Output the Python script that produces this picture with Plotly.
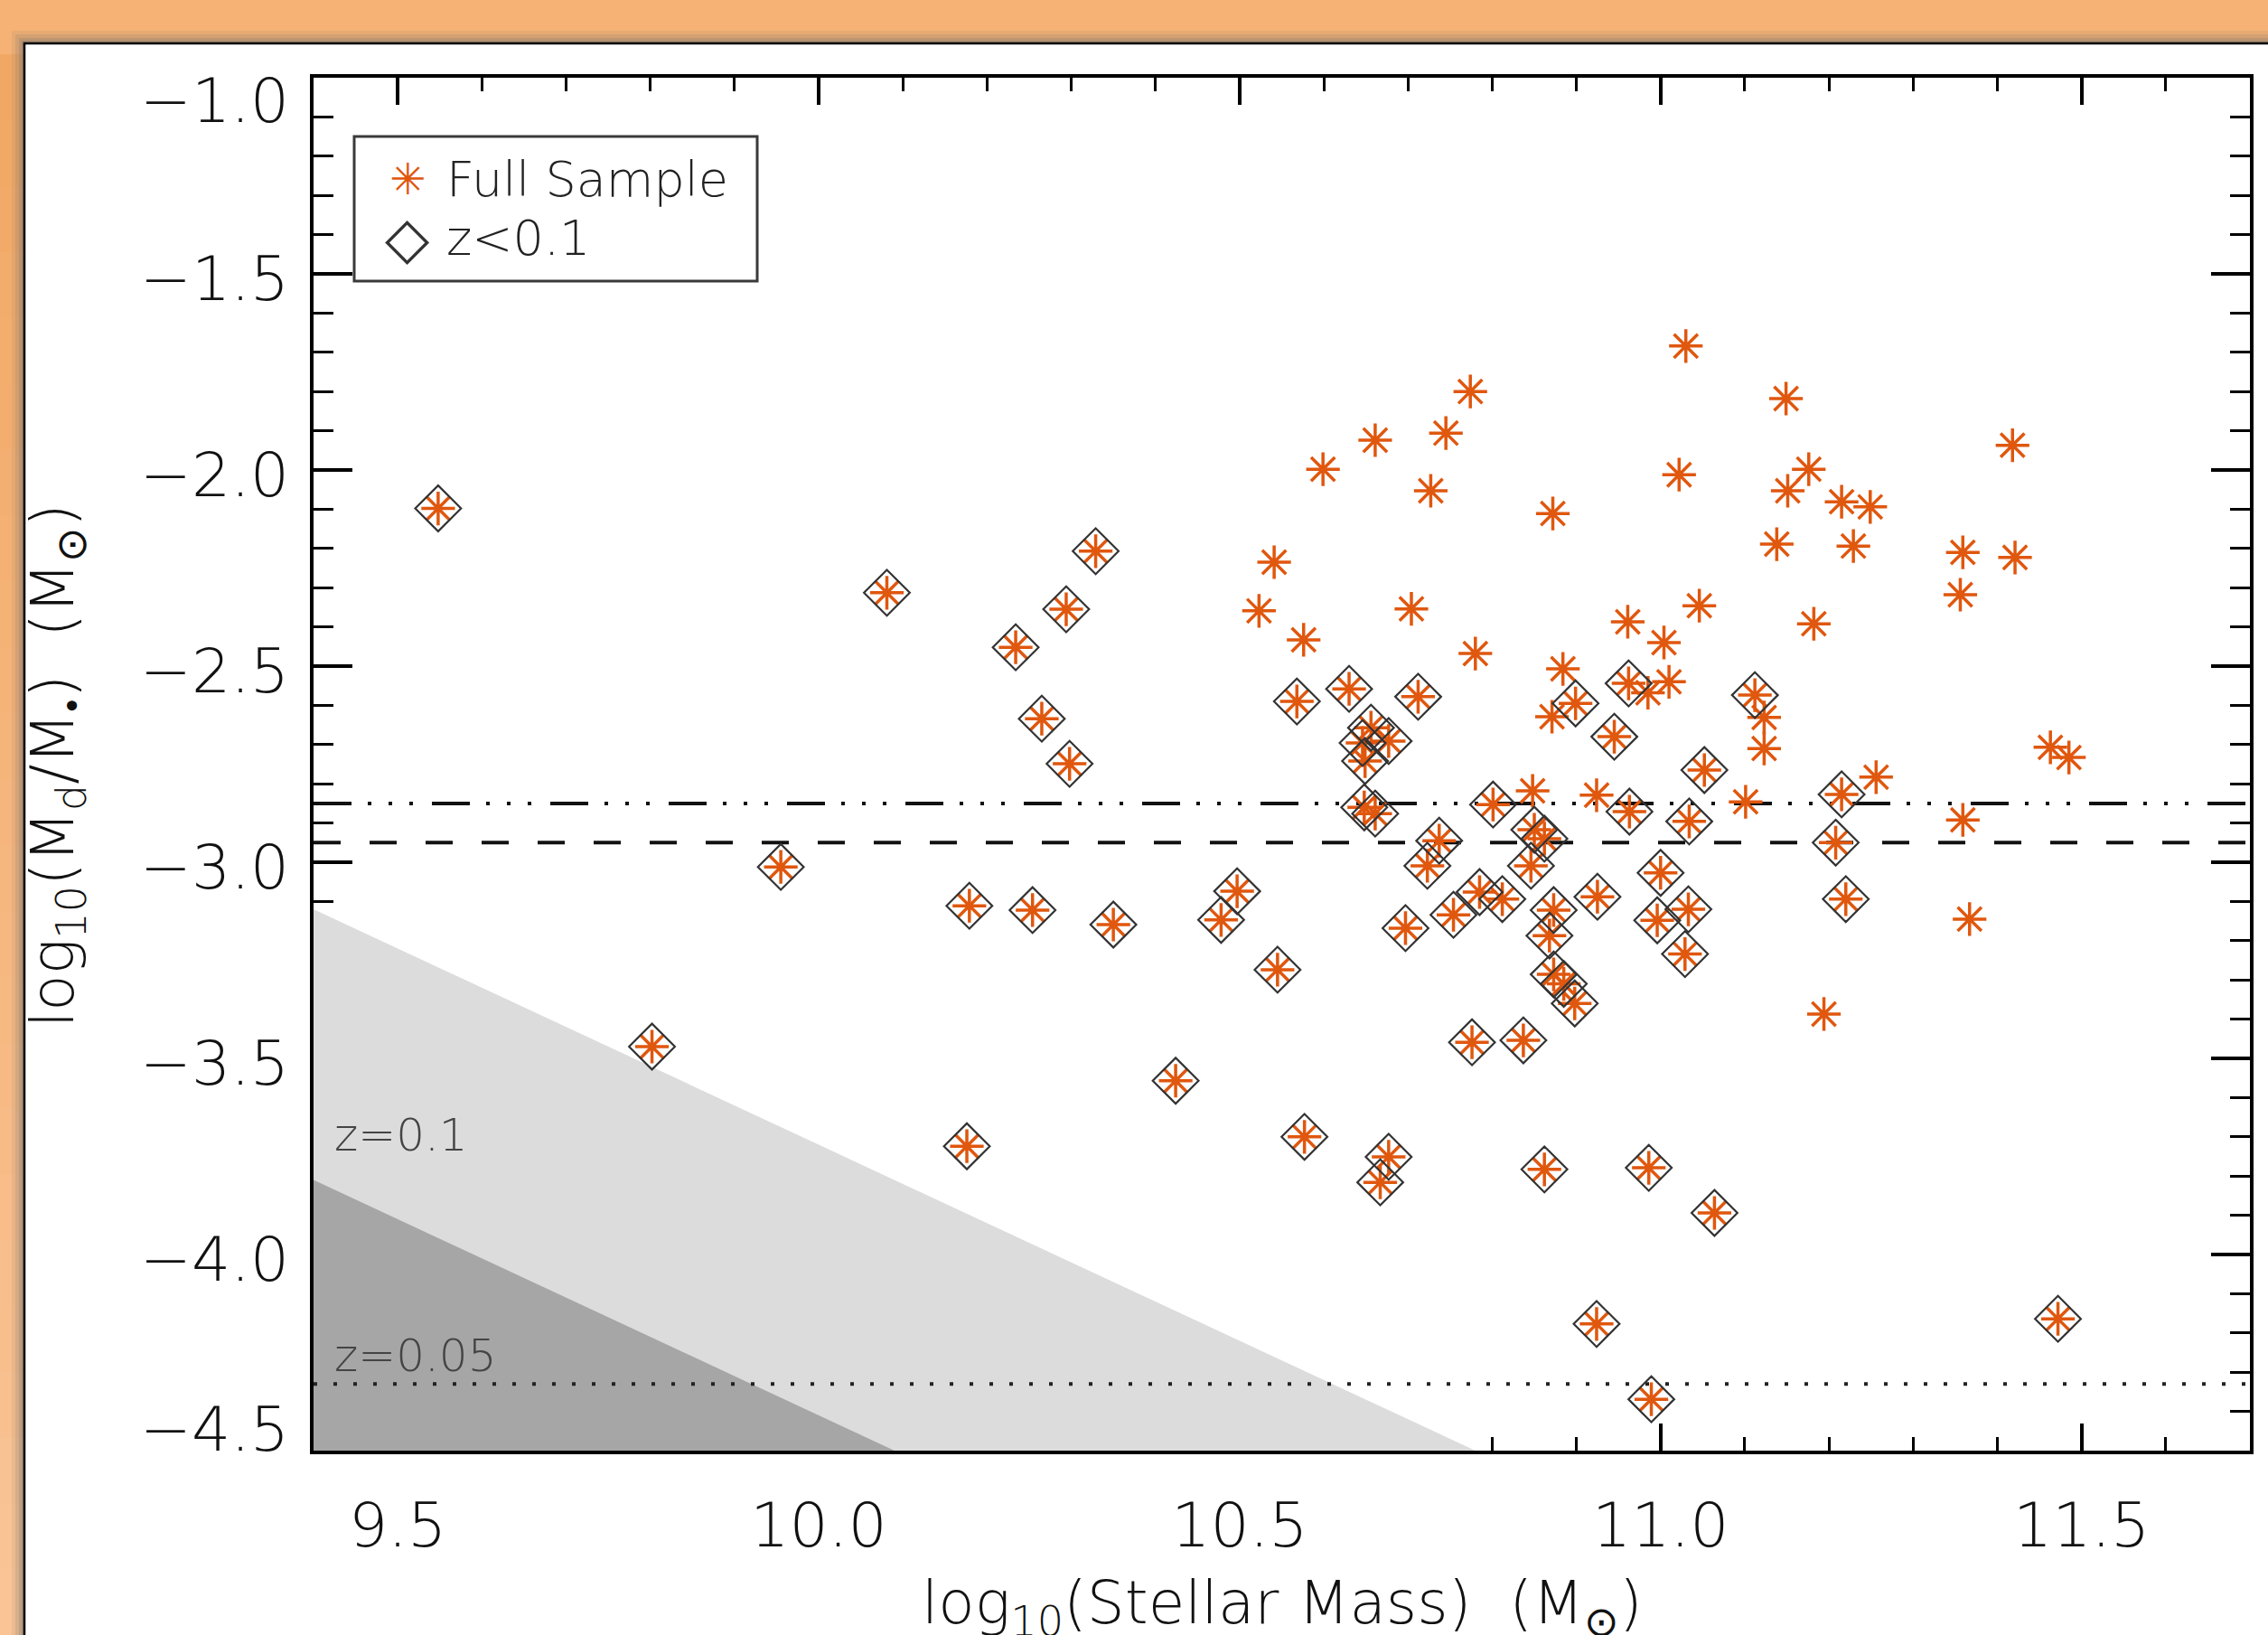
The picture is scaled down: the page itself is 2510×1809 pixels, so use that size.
import plotly.graph_objects as go

# ---------------- data ----------------
# z < 0.1 subsample (drawn with asterisk + diamond)
lowz_mass = [9.548, 9.802, 9.955, 10.081, 10.176, 10.179, 10.234, 10.254, 10.265, 10.294,
             10.298, 10.329, 10.350, 10.424, 10.478, 10.497, 10.545, 10.568, 10.577, 10.630,
             10.656, 10.646, 10.677, 10.649, 10.648, 10.661, 10.667, 10.677, 10.697, 10.712,
             10.723, 10.737, 10.754, 10.776, 10.785, 10.801, 10.812, 10.837, 10.846, 10.850,
             10.862, 10.862, 10.868, 10.873, 10.873, 10.885, 10.898, 10.899, 10.924, 10.925,
             10.945, 10.962, 10.963, 10.986, 10.989, 10.996, 11.000, 11.029, 11.033, 11.034,
             11.052, 11.064, 11.112, 11.208, 11.215, 11.220, 11.472]
lowz_ratio = [-2.098, -3.470, -3.012, -2.313, -3.724, -3.111, -2.452, -3.122, -2.634, -2.355,
              -2.749, -2.207, -3.159, -3.557, -3.147, -3.074, -3.274, -2.590, -3.700, -2.558,
              -2.657, -2.696, -2.691, -2.742, -2.860, -2.876, -3.816, -3.751, -3.168, -2.578,
              -3.009, -2.945, -3.134, -3.459, -3.076, -2.853, -3.094, -3.454, -3.009, -2.917,
              -2.940, -3.783, -3.187, -3.122, -3.286, -3.310, -3.360, -2.595, -4.177, -3.088,
              -2.680, -2.544, -2.871, -3.779, -4.369, -3.148, -3.027, -3.234, -3.120, -2.896,
              -2.765, -3.894, -2.574, -2.950, -2.827, -3.094, -4.164]

# remaining galaxies of the full sample (asterisk only)
highz_mass = [10.523, 10.541, 10.576, 10.599, 10.661, 10.704, 10.727, 10.745, 10.774, 10.780,
              10.848, 10.872, 10.871, 10.884, 10.924, 10.961, 10.985, 11.004, 11.010, 11.022,
              11.030, 11.046, 11.101, 11.123, 11.123, 11.138, 11.149, 11.151, 11.176, 11.182,
              11.194, 11.215, 11.229, 11.249, 11.256, 11.356, 11.359, 11.359, 11.367, 11.418,
              11.421, 11.463, 11.485]
highz_ratio = [-2.359, -2.235, -2.433, -1.998, -1.924, -2.354, -2.053, -1.906, -1.800, -2.468,
               -2.818, -2.111, -2.629, -2.507, -2.829, -2.387, -2.568, -2.440, -2.540, -2.012,
               -1.684, -2.346, -2.846, -2.631, -2.710, -2.189, -1.818, -2.053, -1.998, -2.392,
               -3.387, -2.081, -2.194, -2.094, -2.783, -2.318, -2.210, -2.892, -3.145, -1.937,
               -2.223, -2.707, -2.733]

full_mass = lowz_mass + highz_mass
full_ratio = lowz_ratio + highz_ratio

# reference levels
mean_full_ratio = -2.85     # dash-dot-dot-dot
mean_lowz_ratio = -2.95     # dashed
detection_floor = -4.33     # dotted

# detection-limit wedges (slope -1)
z01_limit_mass = [9.4, 10.78]
z01_limit_ratio = [-3.12, -4.5]
z005_limit_mass = [9.4, 10.09]
z005_limit_ratio = [-3.81, -4.5]

x_range = [9.4, 11.7]
y_range = [-4.5, -1.0]
x_tick_vals = [9.5, 10.0, 10.5, 11.0, 11.5]
x_tick_text = ["9.5", "10.0", "10.5", "11.0", "11.5"]
y_tick_vals = [-1.0, -1.5, -2.0, -2.5, -3.0, -3.5, -4.0, -4.5]
y_tick_text = ["\u22121.0", "\u22121.5", "\u22122.0", "\u22122.5", "\u22123.0", "\u22123.5", "\u22124.0", "\u22124.5"]

# ---------------- layout geometry ----------------
W, H = 2510, 1809
L, R, T, B = 347, 20, 86, 204
PW, PH = W - L - R, H - T - B


def px_x(px):
    return (px - L) / PW


def px_y(py):
    return 1 - (py - T) / PH


FONT = "DejaVu Sans ExtraLight, DejaVu Sans Light, DejaVu Sans"
ORANGE = "#E0570E"

fig = go.Figure()

# shaded detection-limit regions
fig.add_trace(go.Scatter(x=z01_limit_mass + [x_range[0]], y=z01_limit_ratio + [y_range[0]],
                         fill="toself", fillcolor="#DCDCDC", mode="lines",
                         line=dict(width=0, color="#DCDCDC"), showlegend=False, hoverinfo="skip"))
fig.add_trace(go.Scatter(x=z005_limit_mass + [x_range[0]], y=z005_limit_ratio + [y_range[0]],
                         fill="toself", fillcolor="#A6A6A6", mode="lines",
                         line=dict(width=0, color="#A6A6A6"), showlegend=False, hoverinfo="skip"))

# horizontal reference lines
fig.add_trace(go.Scatter(x=x_range, y=[detection_floor] * 2, mode="lines",
                         line=dict(color="#222222", width=4, dash="4px,18px"),
                         showlegend=False, hoverinfo="skip"))
fig.add_trace(go.Scatter(x=x_range, y=[mean_lowz_ratio] * 2, mode="lines",
                         line=dict(color="#111111", width=4, dash="30px,32px"),
                         showlegend=False, hoverinfo="skip"))
fig.add_trace(go.Scatter(x=x_range, y=[mean_full_ratio] * 2, mode="lines",
                         line=dict(color="#111111", width=4,
                                   dash="42px,18px,4px,19px,4px,19px,4px,21px"),
                         showlegend=False, hoverinfo="skip"))

# full sample asterisks
fig.add_trace(go.Scatter(x=full_mass, y=full_ratio, mode="markers", name="Full Sample",
                         marker=dict(symbol="asterisk-open", size=31, color=ORANGE,
                                     line=dict(color=ORANGE, width=3.5)),
                         showlegend=False))
# z<0.1 diamonds
fig.add_trace(go.Scatter(x=lowz_mass, y=lowz_ratio, mode="markers", name="z<0.1",
                         marker=dict(symbol="diamond-open", size=39, color="#333333",
                                     line=dict(color="#333333", width=2.2)),
                         showlegend=False))

axis_common = dict(showgrid=False, zeroline=False, showline=True, linewidth=4,
                   linecolor="black", mirror="allticks", ticks="inside",
                   tickcolor="black", tickwidth=3.5, layer="below traces",
                   fixedrange=True)

fig.update_xaxes(range=x_range, tickvals=x_tick_vals, ticktext=x_tick_text,
                 ticklen=30, ticklabelstandoff=20,
                 tickfont=dict(family=FONT, size=68, color="#111111", weight=300),
                 minor=dict(dtick=0.1, tick0=9.4, ticklen=15, tickwidth=3,
                            tickcolor="black", ticks="inside"),
                 **axis_common)
fig.update_yaxes(range=y_range, tickvals=y_tick_vals, showticklabels=False,
                 ticklen=43,
                 minor=dict(dtick=0.1, tick0=-4.5, ticklen=22, tickwidth=3,
                            tickcolor="black", ticks="inside"),
                 **axis_common)

shapes = []
# orange frame: smooth vertical gradient down the left edge
top_rgb, bot_rgb = (241, 168, 100), (250, 196, 150)
n_bands = 24
for i in range(n_bands):
    f = i / (n_bands - 1)
    col = "rgb(%d,%d,%d)" % tuple(round(a + (b - a) * f) for a, b in zip(top_rgb, bot_rgb))
    y0 = 60 + i * (1809 - 60) / n_bands
    y1 = 60 + (i + 1) * (1809 - 60) / n_bands + 1
    shapes.append(dict(type="rect", xref="paper", yref="paper", layer="below",
                       x0=px_x(-5), x1=px_x(40), y0=px_y(y1), y1=px_y(y0),
                       fillcolor=col, line=dict(width=0)))
# soft shadow of the white panel
for off, op in [(14, 0.10), (10, 0.16), (6, 0.22), (3, 0.28)]:
    shapes.append(dict(type="rect", xref="paper", yref="paper", layer="below",
                       x0=px_x(27 - off), x1=px_x(2540), y0=px_y(1840), y1=px_y(48 - off),
                       fillcolor="rgba(110,110,110,%.2f)" % op, line=dict(width=0)))
# white panel
shapes.append(dict(type="rect", xref="paper", yref="paper", layer="below",
                   x0=px_x(27), x1=px_x(2540), y0=px_y(1840), y1=px_y(48),
                   fillcolor="white", line=dict(color="black", width=2.5)))
# legend box
shapes.append(dict(type="rect", xref="paper", yref="paper", layer="above",
                   x0=px_x(392), x1=px_x(838), y0=px_y(311), y1=px_y(151),
                   fillcolor="rgba(255,255,255,0)", line=dict(color="#3a3a3a", width=3)))

annotations = [
    # legend entries
    dict(xref="paper", yref="paper", x=px_x(451), y=px_y(198), text="\u2733",
         showarrow=False, xanchor="center", yanchor="middle",
         font=dict(family="DejaVu Sans", size=48, color=ORANGE)),
    dict(xref="paper", yref="paper", x=px_x(492), y=px_y(198), text="Full Sample",
         showarrow=False, xanchor="left", yanchor="middle",
         font=dict(family=FONT, size=54, color="#222222", weight=300)),
    dict(xref="paper", yref="paper", x=px_x(451), y=px_y(263), text="\u25C7",
         showarrow=False, xanchor="center", yanchor="middle",
         font=dict(family="DejaVu Sans", size=64, color="#333333")),
    dict(xref="paper", yref="paper", x=px_x(492), y=px_y(263), text="z<0.1",
         showarrow=False, xanchor="left", yanchor="middle",
         font=dict(family=FONT, size=54, color="#222222", weight=300)),
    # redshift labels
    dict(x=9.4225, y=-3.696, xref="x", yref="y", text="z=0.1", showarrow=False,
         xanchor="left", yanchor="middle",
         font=dict(family=FONT, size=50, color="#444444", weight=300)),
    dict(x=9.4225, y=-4.258, xref="x", yref="y", text="z=0.05", showarrow=False,
         xanchor="left", yanchor="middle",
         font=dict(family=FONT, size=50, color="#444444", weight=300)),
    # axis titles
    dict(xref="paper", yref="paper", x=0.5, y=px_y(1778),
         text="log<sub>10</sub>(Stellar Mass)  (M<sub>\u2299</sub>)",
         showarrow=False, xanchor="center", yanchor="middle",
         font=dict(family=FONT, size=66, color="#111111", weight=300)),
    dict(xref="paper", yref="paper", x=px_x(63), y=px_y(847), textangle=-90,
         text="log<sub>10</sub>(M<sub>d</sub>/M<sub>\u2022</sub>)  (M<sub>\u2299</sub>)",
         showarrow=False, xanchor="center", yanchor="middle",
         font=dict(family=FONT, size=66, color="#111111", weight=300)),
]

# y tick labels (end labels sit inside the axis span, as in the original)
y_label_shift = [-25, -5, -5, -5, -5, -5, -5, 24]
for val, txt, sh in zip(y_tick_vals, y_tick_text, y_label_shift):
    annotations.append(dict(xref="paper", yref="y", x=px_x(322), y=val, text=txt,
                            showarrow=False, xanchor="right", yanchor="middle", yshift=sh,
                            font=dict(family=FONT, size=68, color="#111111", weight=300)))

fig.update_layout(width=W, height=H, margin=dict(l=L, r=R, t=T, b=B, autoexpand=False),
                  paper_bgcolor="#F5B274", plot_bgcolor="white",
                  shapes=shapes, annotations=annotations, showlegend=False,
                  hovermode=False)

fig.write_html("out.html")
